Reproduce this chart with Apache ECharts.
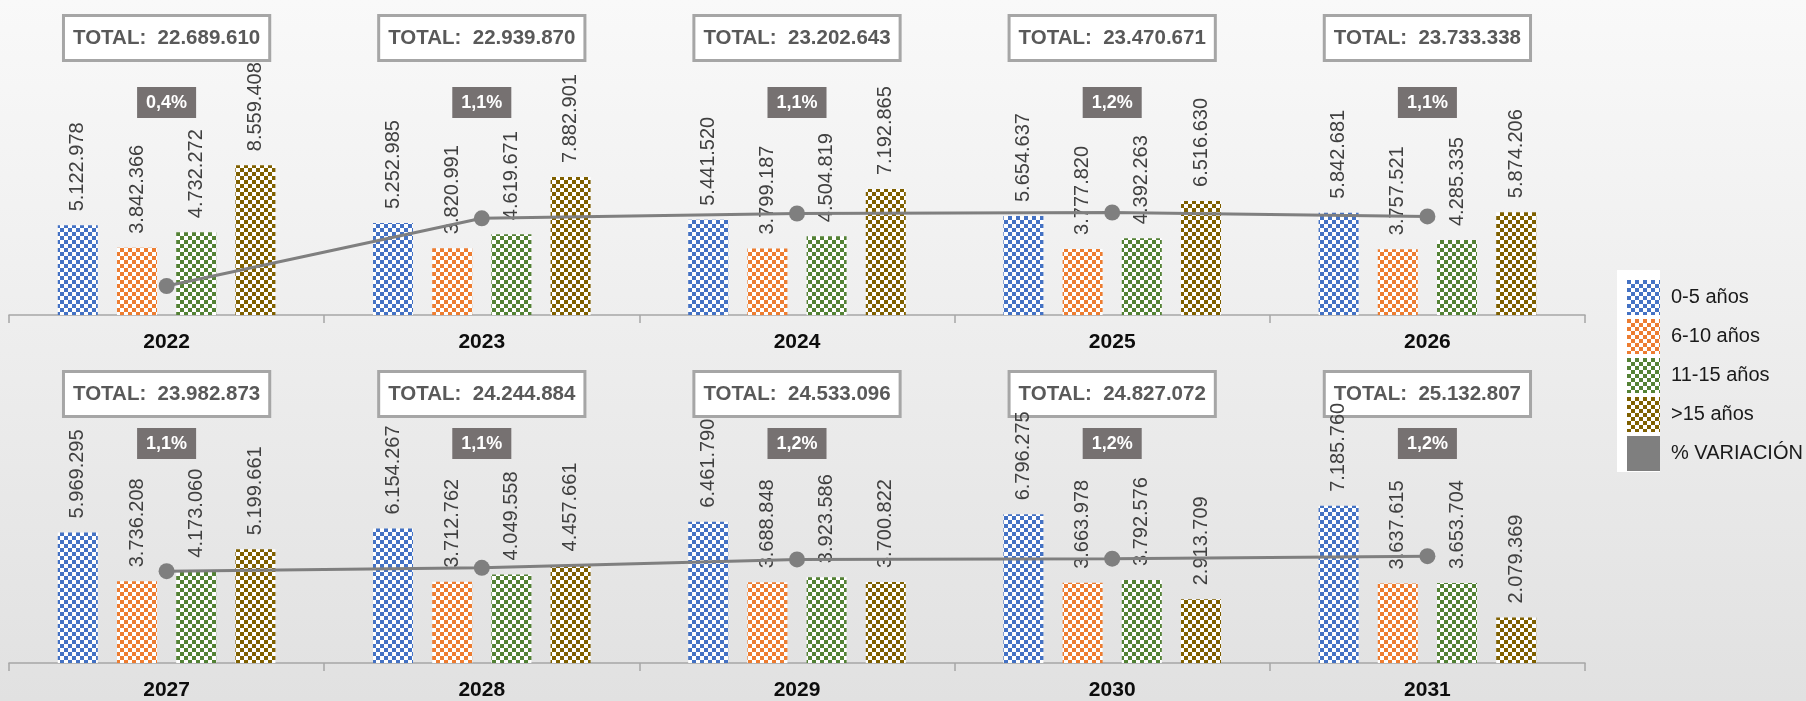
<!DOCTYPE html>
<html>
<head>
<meta charset="utf-8">
<title>Población por grupos de edad 2022-2031</title>
<script src="https://cdn.jsdelivr.net/npm/echarts@6/dist/echarts.min.js"></script>
<style>
  html, body { margin: 0; padding: 0; }
  #chart { width: 1806px; height: 701px; }
</style>
</head>
<body>
<div id="chart"></div>
<script>
// datos
const years = ['2022', '2023', '2024', '2025', '2026', '2027', '2028', '2029', '2030', '2031'];
const grupo0a5 = [5122978, 5252985, 5441520, 5654637, 5842681, 5969295, 6154267, 6461790, 6796275, 7185760];
const grupo6a10 = [3842366, 3820991, 3799187, 3777820, 3757521, 3736208, 3712762, 3688848, 3663978, 3637615];
const grupo11a15 = [4732272, 4619671, 4504819, 4392263, 4285335, 4173060, 4049558, 3923586, 3792576, 3653704];
const grupo15mas = [8559408, 7882901, 7192865, 6516630, 5874206, 5199661, 4457661, 3700822, 2913709, 2079369];
const totales = [22689610, 22939870, 23202643, 23470671, 23733338, 23982873, 24244884, 24533096, 24827072, 25132807];
const variacion = [0.40, 1.10, 1.15, 1.16, 1.12, 1.05, 1.09, 1.19, 1.20, 1.23];
const variacionLabels = ['0,4%', '1,1%', '1,1%', '1,2%', '1,1%', '1,1%', '1,1%', '1,2%', '1,2%', '1,2%'];

const groupNames = ['0-5 años', '6-10 años', '11-15 años', '>15 años'];
const groupData = [grupo0a5, grupo6a10, grupo11a15, grupo15mas];
const groupColors = ['#4472c4', '#ed7d31', '#548235', '#7f6000'];
const lineName = '% VARIACIÓN';

const FONT = "'Liberation Sans', Arial, sans-serif";

function fmt(n) {
  return String(n).replace(/\B(?=(\d{3})+(?!\d))/g, '.');
}

function checker(color) {
  const c = document.createElement('canvas');
  c.width = 8;
  c.height = 8;
  const ctx = c.getContext('2d');
  ctx.fillStyle = '#ffffff';
  ctx.fillRect(0, 0, 8, 8);
  ctx.fillStyle = color;
  ctx.fillRect(0, 0, 4, 4);
  ctx.fillRect(4, 4, 4, 4);
  return { image: c, repeat: 'repeat' };
}

const rows = [
  { top: 140, barMax: 10000000, lineMin: 0.1, lineMax: 1.91, pctMargin: 22, totMargin: 81 },
  { top: 488, barMax: 8000000, lineMin: -0.053, lineMax: 2.048, pctMargin: 29, totMargin: 73 }
];

const chart = echarts.init(document.getElementById('chart'));

const grid = [];
const xAxis = [];
const yAxis = [];
const series = [];

rows.forEach((row, r) => {
  const from = r * 5, to = r * 5 + 5;
  grid.push({ left: 9, right: 221, top: row.top, height: 175 });

  xAxis.push({
    type: 'category',
    gridIndex: r,
    data: years.slice(from, to),
    position: 'bottom',
    axisLine: { lineStyle: { color: '#a6a6a6', width: 1.5 } },
    axisTick: { show: true, length: 8, lineStyle: { color: '#a6a6a6', width: 1.5 } },
    axisLabel: { margin: 17, fontSize: 21, fontWeight: 'bold', color: '#0d0d0d', fontFamily: FONT }
  });
  xAxis.push({
    type: 'category',
    gridIndex: r,
    data: variacionLabels.slice(from, to),
    position: 'top',
    axisLine: { show: false },
    axisTick: { show: false },
    axisLabel: {
      margin: row.pctMargin,
      fontSize: 18,
      lineHeight: 18,
      fontWeight: 'bold',
      color: '#ffffff',
      fontFamily: FONT,
      backgroundColor: '#767171',
      padding: [7, 9, 6, 9]
    }
  });
  xAxis.push({
    type: 'category',
    gridIndex: r,
    data: totales.slice(from, to).map(t => 'TOTAL:  ' + fmt(t)),
    position: 'top',
    axisLine: { show: false },
    axisTick: { show: false },
    axisLabel: {
      margin: row.totMargin,
      fontSize: 20.5,
      lineHeight: 20,
      fontWeight: 'bold',
      color: '#595959',
      fontFamily: FONT,
      backgroundColor: '#ffffff',
      borderColor: '#a6a6a6',
      borderWidth: 3,
      padding: [11, 8, 11, 8]
    }
  });

  yAxis.push({ type: 'value', gridIndex: r, min: 0, max: row.barMax, show: false });
  yAxis.push({ type: 'value', gridIndex: r, min: row.lineMin, max: row.lineMax, show: false });

  groupNames.forEach((name, g) => {
    series.push({
      name: name,
      type: 'bar',
      xAxisIndex: r * 3,
      yAxisIndex: r * 2,
      barWidth: 40,
      barGap: '48%',
      itemStyle: { color: checker(groupColors[g]) },
      label: {
        show: true,
        position: 'top',
        distance: 14,
        rotate: 90,
        align: 'left',
        verticalAlign: 'middle',
        fontSize: 20,
        color: '#404040',
        fontFamily: FONT,
        formatter: p => fmt(p.value)
      },
      data: groupData[g].slice(from, to)
    });
  });

  series.push({
    name: lineName,
    type: 'line',
    xAxisIndex: r * 3,
    yAxisIndex: r * 2 + 1,
    symbol: 'circle',
    symbolSize: 16,
    z: 4,
    lineStyle: { color: '#7f7f7f', width: 3 },
    itemStyle: { color: '#7f7f7f' },
    data: variacion.slice(from, to)
  });
});

chart.setOption({
  animation: false,
  backgroundColor: {
    type: 'linear', x: 0, y: 0, x2: 0, y2: 1,
    colorStops: [{ offset: 0, color: '#f9f9f9' }, { offset: 1, color: '#e1e1e1' }]
  },
  graphic: [{
    type: 'rect',
    left: 1617,
    top: 270,
    shape: { width: 43, height: 202 },
    style: { fill: '#ffffff' },
    z: -1
  }],
  legend: {
    orient: 'vertical',
    left: 1622,
    top: 275,
    itemWidth: 33,
    itemHeight: 35,
    itemGap: 4,
    icon: 'rect',
    textStyle: { fontSize: 20, color: '#1a1a1a', fontFamily: FONT, padding: [0, 0, 0, 6] },
    data: groupNames.concat([lineName])
  },
  grid: grid,
  xAxis: xAxis,
  yAxis: yAxis,
  series: series
});
</script>
</body>
</html>
